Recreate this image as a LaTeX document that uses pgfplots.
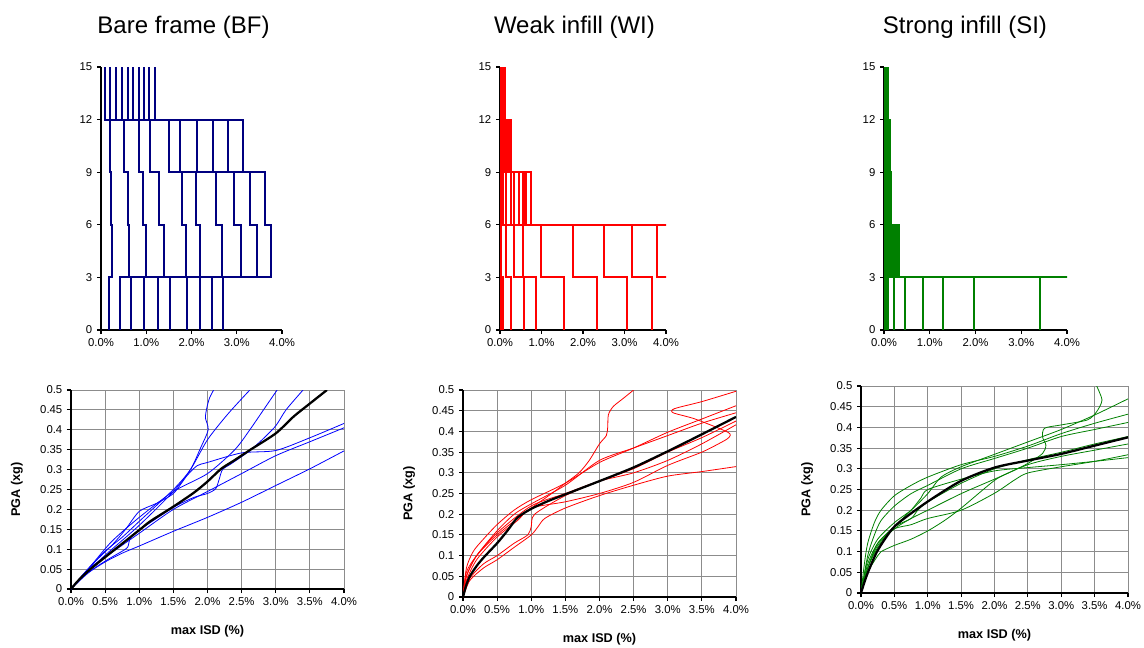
\documentclass[border=0pt]{standalone}
\usepackage{pgfplots}
\pgfplotsset{compat=1.18}
\usepackage{fontspec}
\setmainfont{Liberation Sans}
\definecolor{bfnavy}{HTML}{000080}
\definecolor{bfblue}{HTML}{0000FF}
\definecolor{wired}{HTML}{FF0000}
\definecolor{sigreen}{HTML}{008000}
\definecolor{gridgray}{HTML}{8C8C8C}
\newcommand{\drift}[6]{\addplot[#1] coordinates {(#2,0)(#2,3)(#3,3)(#3,6)(#4,6)(#4,9)(#5,9)(#5,12)(#6,12)(#6,15)};}
\pgfplotsset{
  topax/.style={scale only axis, axis lines*=left, xmin=0, xmax=4, ymin=0, ymax=15,
    xtick={0,1,2,3,4}, xticklabels={0.0\%,1.0\%,2.0\%,3.0\%,4.0\%},
    ytick={0,3,6,9,12,15}, yticklabels={0,3,6,9,12,15},
    tick align=outside, major tick length=3pt,
    tick style={black, line width=0.8pt}, axis line style={black, line width=0.9pt},
    tick label style={font=\fontsize{8.5}{10}\selectfont},
    /pgf/number format/assume math mode=true,
    title style={font=\fontsize{18}{21}\selectfont, at={(0.5,1)}, anchor=center, yshift=24pt},
    clip=true},
  botax/.style={scale only axis, axis lines*=left, xmin=0, xmax=4, ymin=0, ymax=0.5,
    xtick={0,0.5,1,1.5,2,2.5,3,3.5,4},
    xticklabels={0.0\%,0.5\%,1.0\%,1.5\%,2.0\%,2.5\%,3.0\%,3.5\%,4.0\%},
    ytick={0,0.05,0.1,0.15,0.2,0.25,0.3,0.35,0.4,0.45,0.5},
    yticklabels={0,0.05,0.1,0.15,0.2,0.25,0.3,0.35,0.4,0.45,0.5},
    grid=major, major grid style={gridgray, line width=0.75pt},
    tick align=outside, major tick length=3pt,
    tick style={black, line width=0.8pt}, axis line style={black, line width=1.1pt},
    tick label style={font=\fontsize{8.5}{10}\selectfont},
    /pgf/number format/assume math mode=true,
    xlabel={max ISD (\%)}, ylabel={PGA (xg)},
    label style={font=\fontsize{9.5}{11}\selectfont\bfseries},
    xlabel style={at={(axis description cs:0.5,0)}, anchor=center, yshift=-31.5pt},
    ylabel style={at={(axis description cs:0,0.5)}, anchor=center, yshift=40.5pt},
    clip=true},
}
\tikzset{
  bfstep/.style={bfnavy, line width=1.5pt},
  wistep/.style={wired, line width=1.5pt},
  sistep/.style={sigreen, line width=1.4pt},
  bfl/.style={bfblue, line width=0.6pt, smooth, tension=0.45},
  wil/.style={wired, line width=0.6pt, smooth, tension=0.45},
  sil/.style={sigreen, line width=0.6pt, smooth, tension=0.45},
  meanl/.style={black, line width=1.7pt, smooth, tension=0.45},
}
\begin{document}
\begin{tikzpicture}
\path[use as bounding box] (0pt,0pt) rectangle (858pt,-486pt);
% ---------------- Top: Bare frame
\begin{axis}[topax, at={(75.75pt,-247.5pt)}, anchor=south west, width=135.75pt, height=197.25pt,
  title={Bare frame (BF)}, title style={xshift=-6pt}]
\drift{bfstep}{0.176}{0.250}{0.228}{0.191}{0.081}
\drift{bfstep}{0.426}{0.618}{0.588}{0.515}{0.199}
\drift{bfstep}{0.654}{0.993}{0.934}{0.831}{0.338}
\drift{bfstep}{0.941}{1.397}{1.287}{1.081}{0.463}
\drift{bfstep}{1.265}{1.882}{1.779}{1.500}{0.588}
\drift{bfstep}{1.515}{2.191}{2.096}{1.750}{0.713}
\drift{bfstep}{1.897}{2.676}{2.551}{2.118}{0.831}
\drift{bfstep}{2.191}{3.103}{2.934}{2.471}{0.949}
\drift{bfstep}{2.449}{3.441}{3.287}{2.816}{1.066}
\drift{bfstep}{2.691}{3.750}{3.625}{3.140}{1.199}
\end{axis}
% ---------------- Top: Weak infill
\begin{axis}[topax, at={(375pt,-247.5pt)}, anchor=south west, width=124.5pt, height=197.25pt,
  title={Weak infill (WI)}, title style={xshift=-6.4pt}]
\drift{wistep}{0.016}{0.016}{0.024}{0.016}{0.016}
\drift{wistep}{0.064}{0.032}{0.050}{0.030}{0.024}
\drift{wistep}{0.272}{0.144}{0.072}{0.048}{0.032}
\drift{wistep}{0.568}{0.328}{0.136}{0.072}{0.048}
\drift{wistep}{0.872}{0.552}{0.256}{0.112}{0.064}
\drift{wistep}{1.544}{0.976}{0.344}{0.128}{0.072}
\drift{wistep}{2.344}{1.768}{0.448}{0.160}{0.080}
\drift{wistep}{3.056}{2.512}{0.544}{0.184}{0.088}
\drift{wistep}{3.664}{3.192}{0.576}{0.208}{0.096}
\drift{wistep}{4.500}{3.776}{0.616}{0.232}{0.104}
\drift{wistep}{4.500}{4.500}{0.736}{0.256}{0.112}
\end{axis}
% ---------------- Top: Strong infill
\begin{axis}[topax, at={(663pt,-247.5pt)}, anchor=south west, width=137.25pt, height=197.25pt,
  title={Strong infill (SI)}, title style={xshift=-7.9pt}]
\drift{sistep}{0.030}{0.030}{0.020}{0.020}{0.010}
\drift{sistep}{0.050}{0.060}{0.040}{0.030}{0.020}
\drift{sistep}{0.095}{0.095}{0.050}{0.050}{0.030}
\drift{sistep}{0.212}{0.130}{0.070}{0.060}{0.040}
\drift{sistep}{0.453}{0.170}{0.080}{0.080}{0.050}
\drift{sistep}{0.856}{0.200}{0.100}{0.090}{0.060}
\drift{sistep}{1.280}{0.230}{0.110}{0.100}{0.070}
\drift{sistep}{1.967}{0.270}{0.130}{0.110}{0.080}
\drift{sistep}{3.400}{0.310}{0.140}{0.120}{0.085}
\drift{sistep}{4.500}{0.330}{0.160}{0.140}{0.095}
\end{axis}
% ---------------- Bottom: Bare frame
\begin{axis}[botax, at={(53.25pt,-441.75pt)}, anchor=south west, width=204.75pt, height=149.25pt]
\addplot[bfl] coordinates {(0,0)(0.25,0.04)(0.5,0.068)(0.75,0.09)(1.0,0.108)(1.5,0.145)(2.0,0.18)(2.5,0.218)(3.0,0.26)(3.5,0.302)(4.0,0.347)};
\addplot[bfl] coordinates {(0,0)(0.2,0.035)(0.5,0.07)(0.75,0.095)(0.83,0.105)(0.86,0.125)(0.9,0.135)(1.0,0.148)(1.5,0.205)(1.8,0.23)(2.0,0.24)(2.12,0.252)(2.17,0.275)(2.22,0.3)(2.35,0.315)(2.6,0.345)(2.8,0.375)(3.0,0.41)(3.15,0.45)(3.4,0.5)};
\addplot[bfl] coordinates {(0,0)(0.25,0.05)(0.5,0.08)(1.0,0.14)(1.5,0.2)(2.0,0.245)(2.5,0.29)(3.0,0.335)(3.5,0.37)(4.0,0.405)};
\addplot[bfl] coordinates {(0,0)(0.3,0.06)(0.6,0.11)(0.8,0.15)(1.0,0.195)(1.25,0.215)(1.5,0.24)(1.7,0.285)(1.85,0.31)(2.0,0.318)(2.5,0.342)(3.0,0.348)(3.5,0.38)(4.0,0.416)};
\addplot[bfl] coordinates {(0,0)(0.25,0.045)(0.5,0.085)(1.0,0.16)(1.5,0.245)(1.75,0.3)(1.9,0.355)(2.01,0.4)(1.97,0.43)(1.99,0.455)(2.03,0.48)(2.09,0.5)};
\addplot[bfl] coordinates {(0,0)(0.25,0.05)(0.5,0.095)(0.75,0.13)(1.0,0.17)(1.5,0.25)(1.75,0.3)(2.0,0.375)(2.3,0.44)(2.62,0.5)};
\addplot[bfl] coordinates {(0,0)(0.3,0.06)(0.6,0.12)(1.0,0.18)(1.5,0.245)(2.0,0.29)(2.4,0.35)(2.62,0.4)(2.82,0.45)(3.02,0.5)};
\addplot[meanl] coordinates {(0,0)(0.1,0.02)(0.25,0.045)(0.5,0.08)(1.0,0.148)(1.16,0.17)(1.5,0.207)(1.8,0.242)(2.0,0.27)(2.2,0.302)(2.4,0.324)(2.62,0.349)(3.0,0.391)(3.26,0.433)(3.5,0.466)(3.75,0.5)};
\end{axis}
% ---------------- Bottom: Weak infill
\begin{axis}[botax, at={(347.25pt,-447.75pt)}, anchor=south west, width=204.75pt, height=155.25pt]
\addplot[wil] coordinates {(0,0)(0.05,0.05)(0.2,0.1)(0.5,0.15)(0.8,0.19)(1.0,0.215)(1.3,0.25)(1.5,0.275)(1.7,0.3)(1.85,0.33)(2.0,0.37)(2.1,0.39)(2.12,0.41)(2.13,0.44)(2.2,0.46)(2.35,0.48)(2.5,0.5)};
\addplot[wil] coordinates {(0,0)(0.05,0.07)(0.15,0.11)(0.3,0.14)(0.5,0.175)(0.75,0.21)(1.0,0.235)(1.5,0.275)(2.0,0.325)(2.5,0.36)(3.0,0.398)(3.5,0.43)(4.0,0.462)};
\addplot[wil] coordinates {(0,0)(0.05,0.05)(0.2,0.1)(0.5,0.16)(0.75,0.2)(1.0,0.225)(1.5,0.27)(2.0,0.33)(2.5,0.36)(3.0,0.39)(3.5,0.42)(4.0,0.445)};
\addplot[wil] coordinates {(0,0)(0.05,0.04)(0.2,0.09)(0.5,0.145)(0.8,0.185)(1.0,0.215)(1.5,0.23)(2.0,0.25)(2.5,0.277)(3.0,0.318)(3.5,0.35)(3.8,0.375)(3.9,0.386)(3.88,0.398)(3.4,0.43)(3.08,0.445)(3.1,0.455)(3.5,0.472)(4.0,0.497)};
\addplot[wil] coordinates {(0,0)(0.05,0.06)(0.2,0.1)(0.5,0.155)(1.0,0.22)(1.5,0.25)(2.0,0.28)(2.5,0.3)(3.0,0.33)(3.5,0.37)(4.0,0.416)};
\addplot[wil] coordinates {(0,0)(0.1,0.04)(0.3,0.07)(0.5,0.09)(0.75,0.12)(1.0,0.15)(1.1,0.17)(1.2,0.19)(1.5,0.215)(2.0,0.245)(2.5,0.27)(3.0,0.292)(3.5,0.303)(4.0,0.315)};
\addplot[wil] coordinates {(0,0)(0.1,0.045)(0.3,0.08)(0.5,0.1)(0.75,0.13)(0.95,0.15)(1.0,0.17)(1.05,0.2)(1.5,0.245)(2.0,0.28)(2.5,0.31)(3.0,0.35)(3.5,0.385)(4.0,0.425)};
\addplot[meanl] coordinates {(0,0)(0.05,0.03)(0.1,0.05)(0.2,0.075)(0.3,0.095)(0.5,0.13)(0.65,0.16)(0.8,0.192)(1.0,0.213)(1.25,0.232)(1.5,0.248)(2.0,0.28)(2.5,0.313)(3.0,0.352)(3.5,0.393)(4.0,0.435)};
\end{axis}
% ---------------- Bottom: Strong infill
\begin{axis}[botax, at={(645.75pt,-444.75pt)}, anchor=south west, width=200.25pt, height=155.25pt]
\addplot[sil] coordinates {(0,0)(0.05,0.07)(0.1,0.12)(0.2,0.17)(0.3,0.2)(0.5,0.235)(0.75,0.26)(1.0,0.28)(1.5,0.31)(2.0,0.33)(2.5,0.355)(3.0,0.385)(3.5,0.41)(4.0,0.432)};
\addplot[sil] coordinates {(0,0)(0.1,0.09)(0.2,0.14)(0.3,0.175)(0.5,0.21)(0.75,0.24)(1.0,0.26)(1.5,0.3)(2.0,0.325)(2.5,0.35)(3.0,0.378)(3.5,0.395)(4.0,0.412)};
\addplot[sil] coordinates {(0,0)(0.1,0.08)(0.25,0.13)(0.5,0.17)(0.75,0.2)(1.0,0.24)(1.2,0.28)(1.5,0.305)(2.0,0.335)(2.5,0.365)(3.0,0.395)(3.5,0.43)(4.0,0.469)};
\addplot[sil] coordinates {(0,0)(0.1,0.05)(0.25,0.09)(0.3,0.1)(0.5,0.115)(0.75,0.13)(1.0,0.15)(1.25,0.175)(1.5,0.205)(2.0,0.272)(2.25,0.293)(2.5,0.313)(2.72,0.337)(2.77,0.357)(2.72,0.377)(2.75,0.398)(3.0,0.406)(3.39,0.418)(3.53,0.438)(3.61,0.466)(3.53,0.5)};
\addplot[sil] coordinates {(0,0)(0.1,0.06)(0.25,0.115)(0.5,0.155)(0.75,0.18)(1.0,0.2)(1.5,0.24)(2.0,0.275)(2.5,0.31)(3.0,0.33)(3.5,0.345)(4.0,0.36)};
\addplot[sil] coordinates {(0,0)(0.1,0.06)(0.25,0.12)(0.5,0.155)(0.75,0.165)(1.0,0.18)(1.5,0.2)(2.0,0.241)(2.3,0.273)(2.5,0.29)(3.0,0.305)(3.5,0.318)(4.0,0.334)};
\addplot[sil] coordinates {(0,0)(0.1,0.06)(0.25,0.11)(0.5,0.16)(0.75,0.2)(0.9,0.23)(1.0,0.25)(1.5,0.275)(2.0,0.295)(2.5,0.303)(3.0,0.31)(3.5,0.318)(4.0,0.327)};
\addplot[sil] coordinates {(0,0)(0.1,0.07)(0.25,0.12)(0.5,0.16)(0.75,0.18)(0.85,0.2)(1.0,0.22)(1.5,0.265)(2.0,0.3)(2.5,0.322)(3.0,0.34)(3.5,0.36)(4.0,0.378)};
\addplot[meanl] coordinates {(0,0)(0.09,0.044)(0.24,0.1)(0.44,0.149)(0.59,0.173)(1.0,0.221)(1.5,0.271)(2.0,0.303)(2.5,0.32)(3.0,0.336)(3.5,0.356)(4.0,0.376)};
\end{axis}
\end{tikzpicture}
\end{document}
